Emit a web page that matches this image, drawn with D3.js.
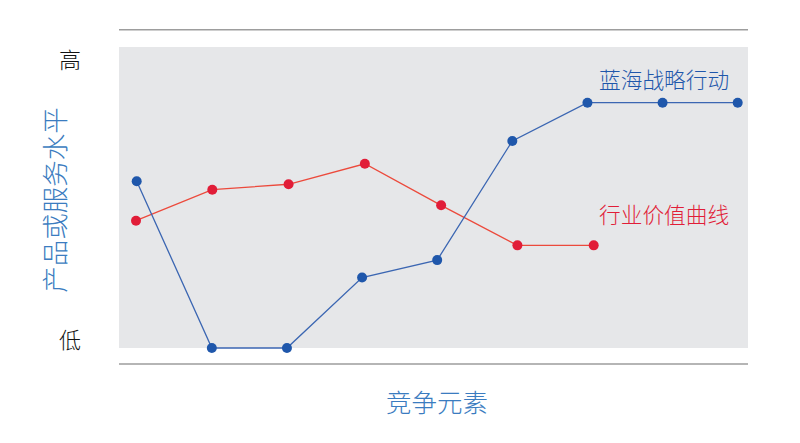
<!DOCTYPE html>
<html>
<head>
<meta charset="utf-8">
<script src="https://cdn.jsdelivr.net/npm/d3@7"></script>
<style>
  body { margin: 0; background: #fff; }
  text { font-family: "Noto Sans CJK SC", sans-serif; font-weight: 300; }
</style>
</head>
<body>
<svg id="chart" width="800" height="443"></svg>
<script>
// competition factors (unlabelled in the original)
const factors = d3.range(1, 10).map(i => "要素" + i);

// 0 = 低, 100 = 高
const blueOcean = [55.4, 0, 0, 23.4, 29.2, 68.8, 81.5, 81.5, 81.5];
const industry = [42.3, 52.6, 54.4, 61.2, 47.4, 34.1, 34.1];

const levelLabels = ["低", "高"];
const seriesNames = ["蓝海战略行动", "行业价值曲线"];

const svg = d3.select("#chart");

const plot = { left: 119, right: 748, top: 47, bottom: 348 };

const xBlue = d3
  .scalePoint()
  .domain(factors)
  .range([136.7, 737.7]);

// the industry curve is drawn on a slightly wider spacing in the original
const xRed = d3
  .scalePoint()
  .domain(factors.slice(0, industry.length))
  .range([136, 593.7]);

const y = d3
  .scaleLinear()
  .domain([0, 100])
  .range([plot.bottom, plot.top]);

// background panel
svg
  .append("rect")
  .attr("x", plot.left)
  .attr("y", plot.top)
  .attr("width", plot.right - plot.left)
  .attr("height", plot.bottom - plot.top)
  .attr("fill", "#e6e7e9");

// top and bottom rules
svg
  .selectAll("line.rule")
  .data([29.7, 364])
  .enter()
  .append("line")
  .attr("class", "rule")
  .attr("x1", plot.left)
  .attr("x2", plot.right)
  .attr("y1", d => d)
  .attr("y2", d => d)
  .attr("stroke", "#9d9d9d")
  .attr("stroke-width", 1.5);

const series = [
  { name: seriesNames[1], values: industry, x: xRed, line: "#ec4a3c", dot: "#e11d38", label: [599, 215] },
  { name: seriesNames[0], values: blueOcean, x: xBlue, line: "#3b66b2", dot: "#1f57ab", label: [599, 80] }
];

series.forEach(s => {
  const line = d3
    .line()
    .x((d, i) => s.x(factors[i]))
    .y(d => y(d));
  const g = svg.append("g");
  g.append("path")
    .attr("d", line(s.values))
    .attr("fill", "none")
    .attr("stroke", s.line)
    .attr("stroke-width", 1.3);
  g.selectAll("circle")
    .data(s.values)
    .enter()
    .append("circle")
    .attr("cx", (d, i) => s.x(factors[i]))
    .attr("cy", d => y(d))
    .attr("r", 5)
    .attr("fill", s.dot);
  g.append("text")
    .attr("x", s.label[0])
    .attr("y", s.label[1])
    .attr("dy", "0.36em")
    .attr("font-size", 21.7)
    .attr("fill", s.dot)
    .text(s.name);
});

// level labels
svg
  .selectAll("text.level")
  .data([{ t: levelLabels[0], y: 340 }, { t: levelLabels[1], y: 60 }])
  .enter()
  .append("text")
  .attr("class", "level")
  .attr("x", 70)
  .attr("y", d => d.y)
  .attr("dy", "0.36em")
  .attr("text-anchor", "middle")
  .attr("font-size", 22)
  .attr("fill", "#111")
  .text(d => d.t);

// axis titles
svg
  .append("text")
  .attr("transform", "translate(55,200) rotate(-90)")
  .attr("dy", "0.36em")
  .attr("text-anchor", "middle")
  .attr("font-size", 26.5)
  .attr("fill", "#3b7cc0")
  .text("产品或服务水平");

svg
  .append("text")
  .attr("x", 437)
  .attr("y", 403)
  .attr("dy", "0.36em")
  .attr("text-anchor", "middle")
  .attr("font-size", 25.5)
  .attr("fill", "#3b7cc0")
  .text("竞争元素");
</script>
</body>
</html>
